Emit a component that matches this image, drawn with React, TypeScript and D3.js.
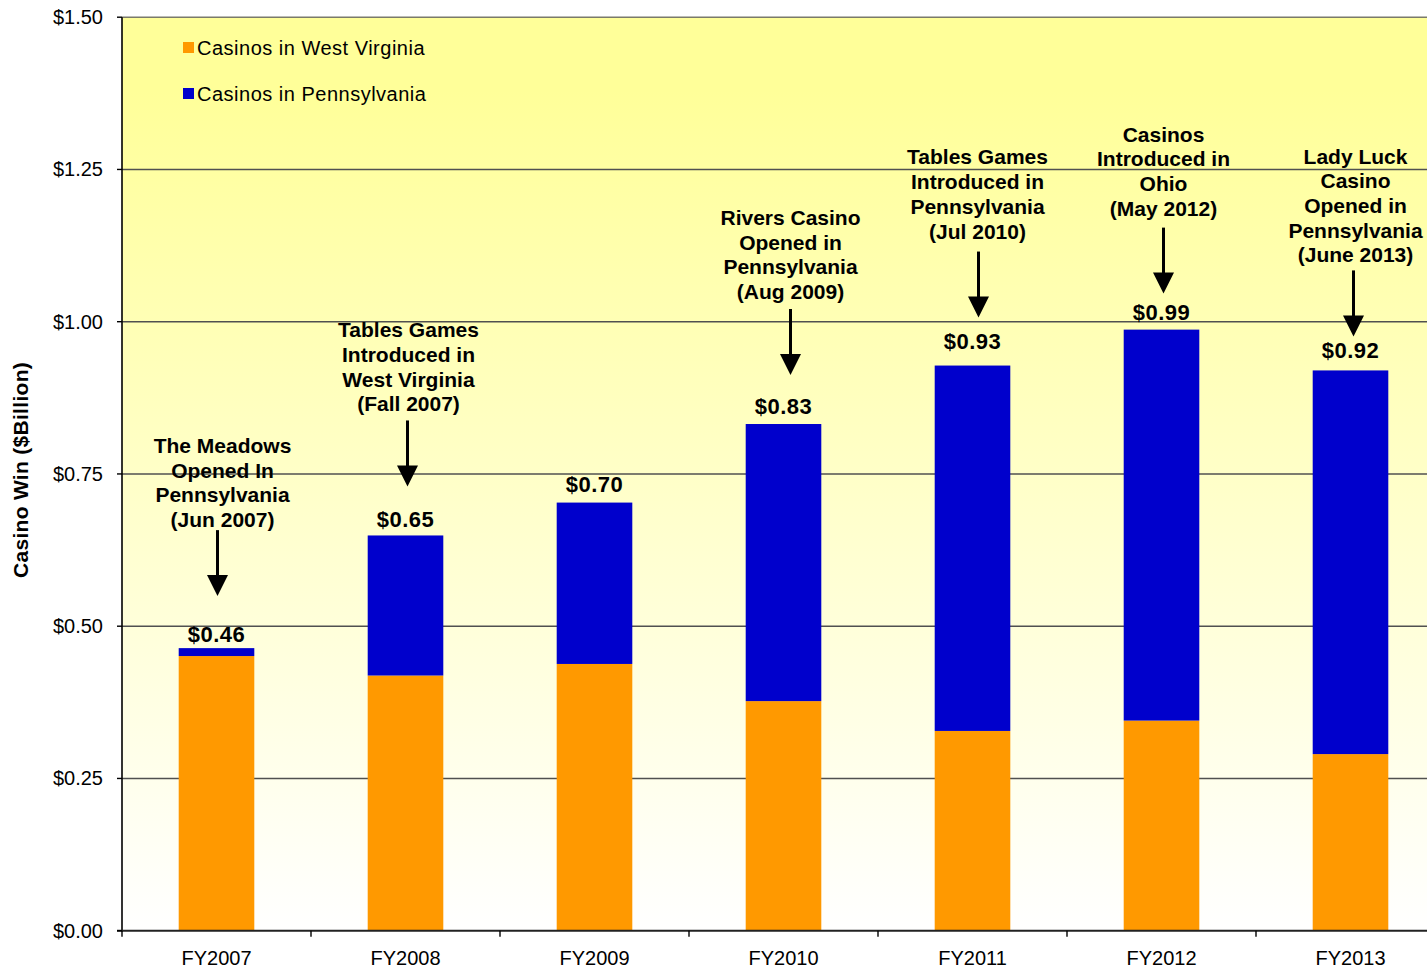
import React from 'react';
import * as d3 from 'd3';

const categories = ['FY2007', 'FY2008', 'FY2009', 'FY2010', 'FY2011', 'FY2012', 'FY2013'];
const westVirginia = [0.451, 0.419, 0.438, 0.377, 0.328, 0.345, 0.29];
const pennsylvania = [0.013, 0.23, 0.265, 0.455, 0.6, 0.642, 0.63];
const yTicks = [0, 0.25, 0.5, 0.75, 1.0, 1.25, 1.5];
const seriesNames = ['Casinos in West Virginia', 'Casinos in Pennsylvania'];
const seriesColors = ['#FF9900', '#0000CC'];
const labelGaps = [6, 8, 11, 10, 17, 10, 12];

const annotations = [
  { cat: 'FY2007', lines: ['The Meadows', 'Opened In', 'Pennsylvania', '(Jun 2007)'], tipGap: 52, textGap: 3, dxText: 6, dxArrow: 1 },
  { cat: 'FY2008', lines: ['Tables Games', 'Introduced in', 'West Virginia', '(Fall 2007)'], tipGap: 49, textGap: 9, dxText: 3, dxArrow: 2 },
  { cat: 'FY2010', lines: ['Rivers Casino', 'Opened in', 'Pennsylvania', '(Aug 2009)'], tipGap: 49, textGap: 10, dxText: 7, dxArrow: 7 },
  { cat: 'FY2011', lines: ['Tables Games', 'Introduced in', 'Pennsylvania', '(Jul 2010)'], tipGap: 48, textGap: 13, dxText: 5, dxArrow: 6 },
  { cat: 'FY2012', lines: ['Casinos', 'Introduced in', 'Ohio', '(May 2012)'], tipGap: 36, textGap: 12, dxText: 2, dxArrow: 2 },
  { cat: 'FY2013', lines: ['Lady Luck', 'Casino', 'Opened in', 'Pennsylvania', '(June 2013)'], tipGap: 34, textGap: 8, dxText: 5, dxArrow: 3 },
];

const W = 1427;
const H = 967;
const left = 122;
const right = 1445;
const top = 17.2;
const bottom = 930.7;
const FONT = '"Liberation Sans", Arial, Helvetica, sans-serif';

export default function App() {
  const x = d3.scaleBand<string>().domain(categories).range([left, right]).paddingInner(0.6).paddingOuter(0.3);
  const step = x.step();
  const y = d3.scaleLinear().domain([0, 1.5]).range([bottom, top]);
  const totals = categories.map((_, i) => westVirginia[i] + pennsylvania[i]);
  const fmt = d3.format('$.2f');
  const stack = d3.stack<number>().keys(['wv', 'pa'] as any).value((i: any, k: any) => (k === 'wv' ? westVirginia[i] : pennsylvania[i]));
  const stacked = stack(categories.map((_, i) => i) as any);

  const boundaries = d3.range(categories.length + 1).map((i) => left + i * step);
  const lineH = 24.7;

  return (
    <svg width={W} height={H} style={{ position: 'absolute', left: 0, top: 0, background: '#fff' }} fontFamily={FONT}>
      <defs>
        <linearGradient id="bg" x1="0" y1="0" x2="0" y2="1">
          <stop offset="0" stopColor="#FFFF99" />
          <stop offset="0.08" stopColor="#FFFF99" />
          <stop offset="1" stopColor="#FFFFFF" />
        </linearGradient>
      </defs>
      <rect x={left} y={top} width={right - left} height={bottom - top} fill="url(#bg)" />
      {yTicks.filter((t) => t > 0).map((t) => (
        <line key={t} x1={left} x2={right} y1={y(t)} y2={y(t)} stroke={t === 1.5 ? '#7a7a6a' : '#505050'} strokeWidth={1.6} />
      ))}
      {stacked.map((s: any, si: number) => (
        <g key={si} fill={seriesColors[si]}>
          {s.map((d: any, i: number) => (
            <rect key={i} x={x(categories[i])} width={x.bandwidth()} y={y(d[1])} height={y(d[0]) - y(d[1])} />
          ))}
        </g>
      ))}
      {/* axes */}
      <line x1={left} x2={left} y1={top} y2={bottom + 1} stroke="#000" strokeWidth={1.6} />
      <line x1={left - 5} x2={right} y1={bottom} y2={bottom} stroke="#222" strokeWidth={2} />
      {yTicks.map((t) => (
        <g key={t}>
          <line x1={left - 5} x2={left} y1={y(t)} y2={y(t)} stroke="#000" strokeWidth={1.4} />
          <text x={103} y={y(t) + 7} textAnchor="end" fontSize={20} fill="#000">{fmt(t)}</text>
        </g>
      ))}
      {boundaries.map((b, i) => (
        <line key={i} x1={b} x2={b} y1={bottom} y2={bottom + 6} stroke="#000" strokeWidth={1.4} />
      ))}
      {categories.map((c) => (
        <text key={c} x={(x(c) as number) + x.bandwidth() / 2} y={964.5} textAnchor="middle" fontSize={20} fill="#000">{c}</text>
      ))}
      {/* value labels */}
      {categories.map((c, i) => (
        <text key={c} x={(x(c) as number) + x.bandwidth() / 2} y={y(totals[i]) - labelGaps[i]} textAnchor="middle" fontSize={22} fontWeight="bold" letterSpacing={0.5} fill="#000">{fmt(totals[i])}</text>
      ))}
      {/* annotations */}
      {annotations.map((a) => {
        const i = categories.indexOf(a.cat);
        const cx = (x(a.cat) as number) + x.bandwidth() / 2;
        const tip = y(totals[i]) - a.tipGap;
        const start = tip - 66;
        const ax = cx + a.dxArrow;
        const lastBase = start - a.textGap;
        const n = a.lines.length;
        return (
          <g key={a.cat}>
            {a.lines.map((l, k) => (
              <text key={k} x={cx + a.dxText} y={lastBase - (n - 1 - k) * lineH} textAnchor="middle" fontSize={21} fontWeight="bold" fill="#000">{l}</text>
            ))}
            <line x1={ax} x2={ax} y1={start} y2={tip - 18} stroke="#000" strokeWidth={3} />
            <polygon points={`${ax - 10.5},${tip - 21} ${ax + 10.5},${tip - 21} ${ax},${tip}`} fill="#000" />
          </g>
        );
      })}
      {/* legend */}
      {seriesNames.map((n, i) => (
        <g key={n}>
          <rect x={183} y={42 + i * 46} width={11} height={11} fill={seriesColors[i]} />
          <text x={197} y={54.5 + i * 46} fontSize={20} letterSpacing={0.5} fill="#000">{n}</text>
        </g>
      ))}
      {/* axis title */}
      <text transform={`translate(28,470) rotate(-90)`} textAnchor="middle" fontSize={21} letterSpacing={0.3} fontWeight="bold" fill="#000">Casino Win ($Billion)</text>
    </svg>
  );
}
